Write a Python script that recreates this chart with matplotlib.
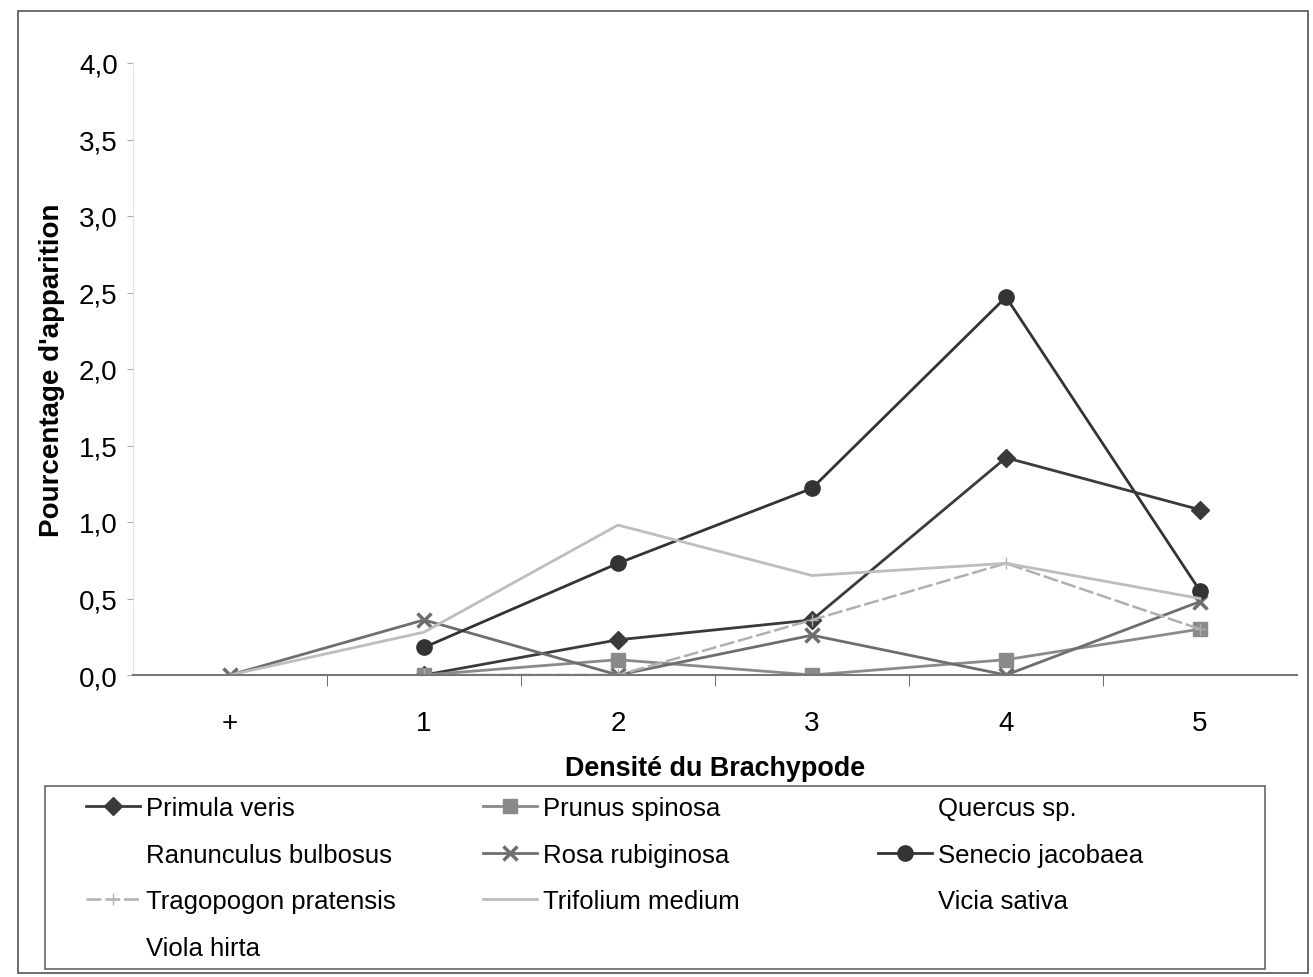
import numpy as np
import matplotlib
matplotlib.use("Agg")
import matplotlib.pyplot as plt
from matplotlib.patches import Rectangle

plt.rcParams['font.family'] = ['Liberation Sans', 'DejaVu Sans']

# categories (densité du brachypode)
cats = ['+', '1', '2', '3', '4', '5']
nan = np.nan

# pourcentage d'apparition par espece
primula = [nan, 0.0, 0.23, 0.36, 1.42, 1.08]
prunus = [nan, 0.0, 0.10, 0.0, 0.10, 0.30]
quercus = [0, 0, 0, 0, 0, 0]
ranunculus = [0, 0, 0, 0, 0, 0]
rosa = [0.0, 0.36, 0.0, 0.26, 0.0, 0.48]
senecio = [nan, 0.18, 0.73, 1.22, 2.47, 0.55]
tragopogon = [nan, 0.0, 0.0, 0.36, 0.73, 0.30]
trifolium = [0.0, 0.28, 0.98, 0.65, 0.73, 0.50]
vicia = [0, 0, 0, 0, 0, 0]
viola = [0, 0, 0, 0, 0, 0]

yticks = [0, 0.5, 1, 1.5, 2, 2.5, 3, 3.5, 4]
ytick_labels = ['0,0', '0,5', '1,0', '1,5', '2,0', '2,5', '3,0', '3,5', '4,0']

W, H = 1313, 978
fig = plt.figure(figsize=(W / 100, H / 100), dpi=100)
ax = fig.add_axes([133 / W, 1 - 676 / H, 1164 / W, 612 / H])

x = np.arange(len(cats))
h = {}
h['Primula veris'], = ax.plot(x, primula, color='#3a3a3a', lw=2, marker='D', ms=9, label='Primula veris')
h['Prunus spinosa'], = ax.plot(x, prunus, color='#8a8a8a', lw=2, marker='s', ms=10, label='Prunus spinosa')
h['Quercus sp.'], = ax.plot(x, quercus, ls='None', marker='None', label='Quercus sp.')
h['Ranunculus bulbosus'], = ax.plot(x, ranunculus, ls='None', marker='None', label='Ranunculus bulbosus')
h['Rosa rubiginosa'], = ax.plot(x, rosa, color='#6e6e6e', lw=2, marker='x', ms=10, mew=2.5, label='Rosa rubiginosa')
h['Senecio jacobaea'], = ax.plot(x, senecio, color='#333333', lw=2, marker='o', ms=11, label='Senecio jacobaea')
h['Tragopogon pratensis'], = ax.plot(x, tragopogon, color='#b0b0b0', lw=1.8, ls=(0, (6, 1.5)), marker='+', ms=9, label='Tragopogon pratensis')
h['Trifolium medium'], = ax.plot(x, trifolium, color='#bdbdbd', lw=2, label='Trifolium medium')
h['Vicia sativa'], = ax.plot(x, vicia, ls='None', marker='None', label='Vicia sativa')
h['Viola hirta'], = ax.plot(x, viola, ls='None', marker='None', label='Viola hirta')

ax.set_xlim(-0.5, 5.5)
ax.set_ylim(0, 4)
ax.set_xticks(x)
ax.set_xticklabels(cats, fontsize=20)
ax.set_xticks(np.arange(0.5, 5.5, 1), minor=True)
ax.tick_params(axis='x', which='major', length=0, pad=25)
ax.tick_params(axis='x', which='minor', length=8, color='#555555', direction='out')
ax.set_yticks(yticks)
ax.set_yticklabels(ytick_labels, fontsize=20)
ax.tick_params(axis='y', length=4, color='#aaaaaa', direction='out', pad=7)

for s in ['top', 'right']:
    ax.spines[s].set_visible(False)
ax.spines['left'].set_color('#e4e4e4')
ax.spines['bottom'].set_color('#777777')
ax.spines['bottom'].set_linewidth(1.5)

ax.set_xlabel('Densité du Brachypode', fontsize=19.4, fontweight='bold', labelpad=14)
ax.set_ylabel("Pourcentage d'apparition", fontsize=20, fontweight='bold', labelpad=10)

# legend: three columns, filled row by row as in the original
columns = [['Primula veris', 'Ranunculus bulbosus', 'Tragopogon pratensis', 'Viola hirta'],
           ['Prunus spinosa', 'Rosa rubiginosa', 'Trifolium medium'],
           ['Quercus sp.', 'Senecio jacobaea', 'Vicia sativa']]
col_x = [86, 483, 878]
for cx, names in zip(col_x, columns):
    fig.legend([h[k] for k in names], names, loc='upper left',
               bbox_to_anchor=(cx / W, 1 - 797 / H), fontsize=18.5, frameon=False,
               handlelength=2.1, handletextpad=0.25, labelspacing=0.88,
               borderaxespad=0, borderpad=0)

fig.patches.append(Rectangle((45 / W, 1 - 970 / H), 1220 / W, 183 / H,
                             transform=fig.transFigure, fill=False,
                             edgecolor='#666666', lw=1.2))

# outer chart border
fig.patches.append(Rectangle((18 / W, 4 / H), 1290 / W, 962 / H,
                             transform=fig.transFigure, fill=False,
                             edgecolor='#555555', lw=1.2))

fig.savefig('out.png', dpi=100)
